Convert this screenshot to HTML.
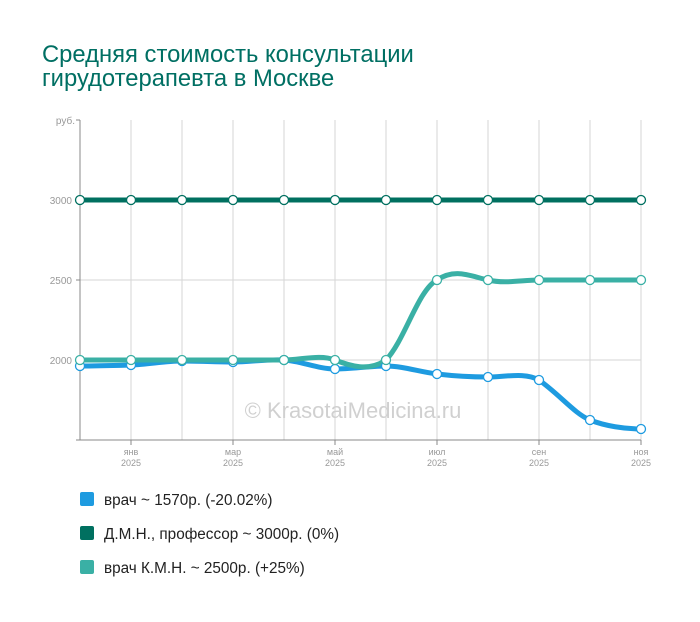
<!DOCTYPE html>
<html><head><meta charset="utf-8"><style>
body{margin:0;background:#fff;width:700px;height:617px;overflow:hidden;font-family:"Liberation Sans",sans-serif}
</style></head><body>
<svg width="700" height="617" xmlns="http://www.w3.org/2000/svg" font-family="Liberation Sans, sans-serif">
<text x="42" y="62" font-size="23.8" fill="#006f63">Средняя стоимость консультации</text>
<text x="42" y="86" font-size="23.8" fill="#006f63">гирудотерапевта в Москве</text>
<g stroke="#d6d6d6" stroke-width="1">
<line x1="131" y1="120" x2="131" y2="440"/><line x1="182" y1="120" x2="182" y2="440"/><line x1="233" y1="120" x2="233" y2="440"/><line x1="284" y1="120" x2="284" y2="440"/><line x1="335" y1="120" x2="335" y2="440"/><line x1="386" y1="120" x2="386" y2="440"/><line x1="437" y1="120" x2="437" y2="440"/><line x1="488" y1="120" x2="488" y2="440"/><line x1="539" y1="120" x2="539" y2="440"/><line x1="590" y1="120" x2="590" y2="440"/><line x1="641" y1="120" x2="641" y2="440"/>
<line x1="80" y1="200" x2="641" y2="200"/><line x1="80" y1="280" x2="641" y2="280"/><line x1="80" y1="360" x2="641" y2="360"/>
</g>
<g stroke="#888" stroke-width="1">
<line x1="80" y1="120" x2="80" y2="440"/><line x1="76" y1="440" x2="641" y2="440"/>
<line x1="76" y1="120" x2="80" y2="120"/><line x1="76" y1="200" x2="80" y2="200"/><line x1="76" y1="280" x2="80" y2="280"/><line x1="76" y1="360" x2="80" y2="360"/>
<line x1="131" y1="440" x2="131" y2="445"/><line x1="233" y1="440" x2="233" y2="445"/><line x1="335" y1="440" x2="335" y2="445"/><line x1="437" y1="440" x2="437" y2="445"/><line x1="539" y1="440" x2="539" y2="445"/><line x1="641" y1="440" x2="641" y2="445"/>
</g>
<g font-size="10" fill="#999" text-anchor="end">
<text x="75" y="124">руб.</text><text x="72" y="204">3000</text><text x="72" y="284">2500</text><text x="72" y="364">2000</text>
</g>
<g font-size="9" fill="#999" text-anchor="middle">
<text x="131" y="455">янв</text><text x="131" y="466">2025</text>
<text x="233" y="455">мар</text><text x="233" y="466">2025</text>
<text x="335" y="455">май</text><text x="335" y="466">2025</text>
<text x="437" y="455">июл</text><text x="437" y="466">2025</text>
<text x="539" y="455">сен</text><text x="539" y="466">2025</text>
<text x="641" y="455">ноя</text><text x="641" y="466">2025</text>
</g>
<text x="353" y="418" font-size="22" fill="#d0d0d0" text-anchor="middle">© KrasotaiMedicina.ru</text>
<g fill="none" stroke-width="5" stroke-linecap="round">
<path stroke="#1e9be0" d="M80,366 C97,366 114,365.5 131,365 C148,364.5 165,361 182,361 C199,361 216,362 233,362 C250,362 267,359 284,360 C301,361 318,369 335,369 C352,369 369,366 386,366 C403,366 420,372 437,374 C454,376 471,377 488,377 C505,377 525,372 539,380 C560,395 575,414 590,420 C605,426 625,429 641,429"/>
<path stroke="#3ab0a5" d="M80,360 L284,360 C301,360 320,354 335,360 C350,366 369,372 386,360 C405,340 418,290 437,280 C455,268 470,276 488,280 C505,284 522,280 539,280 L641,280"/>
<path stroke="#007060" d="M80,200 L641,200"/>
</g>
<g fill="#fff" stroke-width="1.3">
<g stroke="#1e9be0">
<circle cx="80" cy="366" r="4.5"/><circle cx="131" cy="365" r="4.5"/><circle cx="182" cy="361" r="4.5"/><circle cx="233" cy="362" r="4.5"/><circle cx="284" cy="360" r="4.5"/><circle cx="335" cy="369" r="4.5"/><circle cx="386" cy="366" r="4.5"/><circle cx="437" cy="374" r="4.5"/><circle cx="488" cy="377" r="4.5"/><circle cx="539" cy="380" r="4.5"/><circle cx="590" cy="420" r="4.5"/><circle cx="641" cy="429" r="4.5"/>
</g>
<g stroke="#3ab0a5">
<circle cx="80" cy="360" r="4.5"/><circle cx="131" cy="360" r="4.5"/><circle cx="182" cy="360" r="4.5"/><circle cx="233" cy="360" r="4.5"/><circle cx="284" cy="360" r="4.5"/><circle cx="335" cy="360" r="4.5"/><circle cx="386" cy="360" r="4.5"/><circle cx="437" cy="280" r="4.5"/><circle cx="488" cy="280" r="4.5"/><circle cx="539" cy="280" r="4.5"/><circle cx="590" cy="280" r="4.5"/><circle cx="641" cy="280" r="4.5"/>
</g>
<g stroke="#007060">
<circle cx="80" cy="200" r="4.5"/><circle cx="131" cy="200" r="4.5"/><circle cx="182" cy="200" r="4.5"/><circle cx="233" cy="200" r="4.5"/><circle cx="284" cy="200" r="4.5"/><circle cx="335" cy="200" r="4.5"/><circle cx="386" cy="200" r="4.5"/><circle cx="437" cy="200" r="4.5"/><circle cx="488" cy="200" r="4.5"/><circle cx="539" cy="200" r="4.5"/><circle cx="590" cy="200" r="4.5"/><circle cx="641" cy="200" r="4.5"/>
</g>
</g>
<rect x="80" y="492" width="14" height="14" rx="2" fill="#1e9be0"/>
<rect x="80" y="526" width="14" height="14" rx="2" fill="#007060"/>
<rect x="80" y="560" width="14" height="14" rx="2" fill="#3ab0a5"/>
<g font-size="15.3" fill="#222">
<text x="104" y="505">врач ~ 1570р. (-20.02%)</text>
<text x="104" y="539">Д.М.Н., профессор ~ 3000р. (0%)</text>
<text x="104" y="573">врач К.М.Н. ~ 2500р. (+25%)</text>
</g>
</svg>
</body></html>
